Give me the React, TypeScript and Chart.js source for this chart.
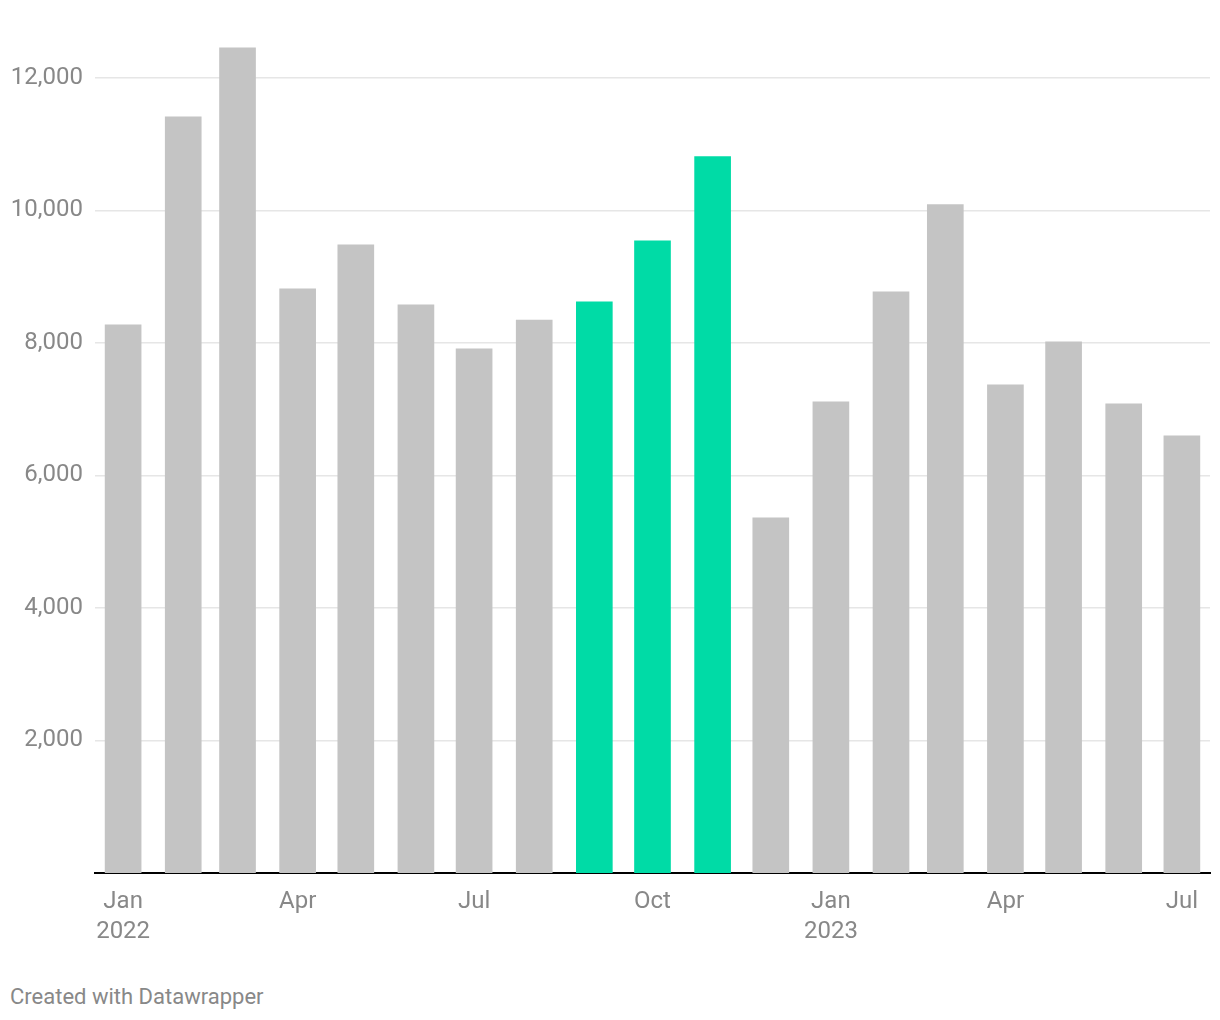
import React, { useEffect, useRef } from "react";
import { Chart, registerables } from "chart.js";

Chart.register(...registerables);

const months = [
  "2022-01-01", "2022-02-01", "2022-03-01", "2022-04-01", "2022-05-01", "2022-06-01",
  "2022-07-01", "2022-08-01", "2022-09-01", "2022-10-01", "2022-11-01", "2022-12-01",
  "2023-01-01", "2023-02-01", "2023-03-01", "2023-04-01", "2023-05-01", "2023-06-01",
  "2023-07-01",
];
const values = [
  8270, 11410, 12450, 8815, 9480, 8575, 7910, 8345, 8620, 9540, 10810, 5360,
  7110, 8770, 10085, 7365, 8015, 7080, 6595,
];
const highlighted = ["2022-09-01", "2022-10-01", "2022-11-01"];
const xTickDates = ["2022-01-01", "2022-04-01", "2022-07-01", "2022-10-01", "2023-01-01", "2023-04-01", "2023-07-01"];
const xTickLabels: (string | string[])[] = [["Jan", "2022"], "Apr", "Jul", "Oct", ["Jan", "2023"], "Apr", "Jul"];
const yTicks = [2000, 4000, 6000, 8000, 10000, 12000];

const GRAY = "#c4c4c4";
const GREEN = "#00dba6";
const TEXT = "#888888";

const origin = Date.UTC(2022, 0, 1);
const dayOf = (s: string) => {
  const [y, m, d] = s.split("-").map(Number);
  return (Date.UTC(y, m - 1, d) - origin) / 86400000;
};

export default function App() {
  const ref = useRef<HTMLCanvasElement | null>(null);
  useEffect(() => {
    if (!ref.current) return;
    const data = months.map((m, i) => ({ x: dayOf(m), y: values[i] }));
    const colors = months.map((m) => (highlighted.includes(m) ? GREEN : GRAY));
    const chart = new Chart(ref.current, {
      type: "bar",
      data: {
        datasets: [
          {
            data: data as any,
            backgroundColor: colors,
            barThickness: 36,
            borderWidth: 0,
          },
        ],
      },
      options: {
        animation: false,
        responsive: false,
        maintainAspectRatio: false,
        layout: { padding: { top: 38, right: 10, left: 0, bottom: 0 } },
        plugins: { legend: { display: false }, tooltip: { enabled: false } },
        scales: {
          x: {
            type: "linear",
            min: -14.5,
            max: 560.5,
            offset: false,
            grid: { display: false, drawTicks: false },
            border: { display: true, color: "#000000", width: 2 },
            afterBuildTicks: (axis: any) => {
              axis.ticks = xTickDates.map((d) => ({ value: dayOf(d) }));
            },
            afterFit: (axis: any) => {
              axis.height = 87;
            },
            ticks: {
              autoSkip: false,
              maxRotation: 0,
              padding: 14,
              color: TEXT,
              font: { family: "Roboto", size: 24, lineHeight: 1.25 },
              callback: (_v: any, i: number) => xTickLabels[i],
            },
          },
          y: {
            min: 0,
            max: 12600,
            grid: { color: "#e6e6e6", lineWidth: 1.5, drawTicks: false },
            border: { display: false },
            afterBuildTicks: (axis: any) => {
              axis.ticks = yTicks.map((v) => ({ value: v }));
            },
            afterFit: (axis: any) => {
              axis.width = 95;
            },
            ticks: {
              padding: 12,
              color: TEXT,
              font: { family: "Roboto", size: 24 },
              callback: (v: any) => Number(v).toLocaleString("en-US"),
            },
          },
        },
      },
    });
    return () => chart.destroy();
  }, []);

  return (
    <div style={{ position: "absolute", left: 0, top: 0, width: 1220, height: 1020, background: "#fff" }}>
      <canvas ref={ref} width={1220} height={960} style={{ display: "block" }} />
      <div
        style={{
          position: "absolute",
          left: 10,
          top: 985,
          fontFamily: "Roboto",
          fontSize: 22,
          color: TEXT,
          lineHeight: "24px",
        }}
      >
        Created with Datawrapper
      </div>
    </div>
  );
}
